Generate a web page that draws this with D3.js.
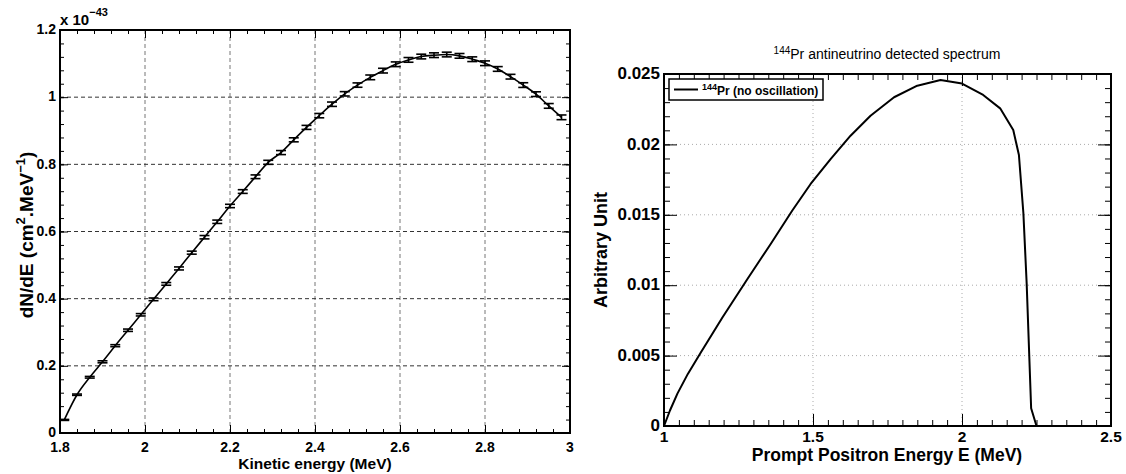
<!DOCTYPE html>
<html>
<head>
<meta charset="utf-8">
<script src="https://d3js.org/d3.v7.min.js"></script>
<style>
  body { margin: 0; background: #fff; }
  svg { display: block; font-family: "Liberation Sans", Arial, sans-serif; }
</style>
</head>
<body>
<div id="chart"></div>
<script>
// left panel: cross section points with error bars
var energyL = [1.81, 1.84, 1.87, 1.90, 1.93, 1.96, 1.99, 2.02, 2.05, 2.08,
               2.11, 2.14, 2.17, 2.20, 2.23, 2.26, 2.29, 2.32, 2.35, 2.38,
               2.41, 2.44, 2.47, 2.50, 2.53, 2.56, 2.59, 2.62, 2.65, 2.68,
               2.71, 2.74, 2.77, 2.80, 2.83, 2.86, 2.89, 2.92, 2.95, 2.98];
var dNdE = [0.039, 0.114, 0.166, 0.212, 0.260, 0.306, 0.352, 0.398, 0.444, 0.490,
            0.537, 0.583, 0.629, 0.676, 0.719, 0.763, 0.806, 0.835, 0.873, 0.910,
            0.945, 0.979, 1.010, 1.036, 1.059, 1.079, 1.098, 1.111, 1.121, 1.125,
            1.127, 1.123, 1.113, 1.101, 1.084, 1.061, 1.036, 1.009, 0.974, 0.940];
var dNdEerr = [0.0015, 0.002, 0.0025, 0.003, 0.003, 0.0035, 0.0035, 0.004, 0.004, 0.0045,
               0.0045, 0.005, 0.005, 0.005, 0.0055, 0.0055, 0.006, 0.006, 0.006, 0.006,
               0.0065, 0.0065, 0.0065, 0.0065, 0.007, 0.007, 0.007, 0.007, 0.007, 0.007,
               0.007, 0.007, 0.007, 0.007, 0.007, 0.007, 0.007, 0.007, 0.007, 0.007];
var xTicksL = [1.8, 2, 2.2, 2.4, 2.6, 2.8, 3];
var yTicksL = [0, 0.2, 0.4, 0.6, 0.8, 1, 1.2];

// right panel: detected spectrum
var energyR = [1.0, 1.02, 1.045, 1.08, 1.123, 1.196, 1.28, 1.358, 1.43, 1.492,
               1.559, 1.626, 1.693, 1.772, 1.85, 1.928, 2.0, 2.071, 2.128, 2.172,
               2.191, 2.206, 2.217, 2.232, 2.25, 2.49];
var spectrum = [0, 0.0011, 0.0023, 0.0037, 0.0052, 0.0077, 0.01044, 0.01293, 0.01529, 0.01719,
                0.01896, 0.02062, 0.02204, 0.02335, 0.02417, 0.02457, 0.02432, 0.02351, 0.02256, 0.02102,
                0.01925, 0.01511, 0.01013, 0.00126, 0, 0];
var xTicksR = [1, 1.5, 2, 2.5];
var yTicksR = [0, 0.005, 0.01, 0.015, 0.02, 0.025];

var svg = d3.select("#chart")
    .append("svg")
    .attr("width", 1126)
    .attr("height", 474);

function minorTicks(lo, hi, step) {
    return d3.range(0, Math.round((hi - lo) / step) + 1).map(function (i) {
        return +(lo + i * step).toFixed(5);
    });
}

// ticks on all four sides, pointing inwards like ROOT
function frameAxes(g, x, y, o) {
    var x0 = x.range()[0], x1 = x.range()[1], y0 = y.range()[0], y1 = y.range()[1];
    var sets = [
        [d3.axisBottom(x), "translate(0," + y0 + ")", o.xMajor, o.xMinor, o.majLen, o.minLen],
        [d3.axisTop(x), "translate(0," + y1 + ")", o.xMajor, o.xMinor, o.majLen, o.minLen],
        [d3.axisLeft(y), "translate(" + x0 + ",0)", o.yMajor, o.yMinor, o.majLenY, o.minLenY],
        [d3.axisRight(y), "translate(" + x1 + ",0)", o.yMajor, o.yMinor, o.majLenY, o.minLenY]
    ];
    sets.forEach(function (s) {
        var minor = g.append("g").attr("transform", s[1])
            .call(s[0].tickValues(s[3]).tickSize(-s[5]).tickSizeOuter(0).tickFormat(""));
        minor.select(".domain").remove();
        var major = g.append("g").attr("transform", s[1])
            .call(s[0].tickValues(s[2]).tickSize(-s[4]).tickSizeOuter(0).tickFormat(""));
        major.select(".domain").remove();
    });
    g.selectAll(".tick line").attr("stroke", "#000").attr("stroke-width", 1);

    g.append("rect")
        .attr("x", x0).attr("y", y1)
        .attr("width", x1 - x0).attr("height", y0 - y1)
        .attr("fill", "none")
        .attr("stroke", "#000")
        .attr("stroke-width", 2);

    g.selectAll(".xlab")
        .data(o.xMajor)
        .enter().append("text")
        .attr("x", function (d) { return x(d); })
        .attr("y", o.xLabY)
        .attr("text-anchor", "middle")
        .attr("font-weight", "bold")
        .attr("font-size", o.xFont)
        .text(function (d) { return d3.format("~g")(d); });

    g.selectAll(".ylab")
        .data(o.yMajor)
        .enter().append("text")
        .attr("x", x0 - 4)
        .attr("y", function (d) { return y(d); })
        .attr("dy", "0.3em")
        .attr("text-anchor", "end")
        .attr("font-weight", "bold")
        .attr("font-size", o.yFont)
        .text(function (d) { return d3.format("~g")(d); });
}

// ---------- left panel ----------
var xL = d3.scaleLinear().domain([1.8, 3]).range([60, 570]);
var yL = d3.scaleLinear().domain([0, 1.2]).range([433, 30]);
var gL = svg.append("g");

gL.selectAll(".vgrid")
    .data(xTicksL.slice(1, -1))
    .enter().append("line")
    .attr("x1", function (d) { return xL(d); })
    .attr("x2", function (d) { return xL(d); })
    .attr("y1", yL(0)).attr("y2", yL(1.2))
    .attr("stroke", "#777")
    .attr("stroke-dasharray", "4,3");

gL.selectAll(".hgrid")
    .data(yTicksL.slice(1, -1))
    .enter().append("line")
    .attr("x1", xL(1.8)).attr("x2", xL(3))
    .attr("y1", function (d) { return yL(d); })
    .attr("y2", function (d) { return yL(d); })
    .attr("stroke", "#333")
    .attr("stroke-dasharray", "4,3");

frameAxes(gL, xL, yL, {
    xMajor: xTicksL, xMinor: minorTicks(1.8, 3, 0.04),
    yMajor: yTicksL, yMinor: minorTicks(0, 1.2, 0.04),
    majLen: 8, minLen: 4, majLenY: 8, minLenY: 4,
    xLabY: 451.5, xFont: "14px", yFont: "14px"
});

var ptsL = energyL.map(function (e, i) { return { x: e, y: dNdE[i], err: dNdEerr[i] }; });

gL.append("path")
    .datum(ptsL)
    .attr("fill", "none")
    .attr("stroke", "#000")
    .attr("stroke-width", 1.6)
    .attr("d", d3.line()
        .x(function (d) { return xL(d.x); })
        .y(function (d) { return yL(d.y); })
        .curve(d3.curveMonotoneX));

var bars = gL.selectAll(".err")
    .data(ptsL)
    .enter().append("g")
    .attr("stroke", "#000")
    .attr("stroke-width", 1.6);
bars.append("line")
    .attr("x1", function (d) { return xL(d.x); })
    .attr("x2", function (d) { return xL(d.x); })
    .attr("y1", function (d) { return yL(d.y - d.err); })
    .attr("y2", function (d) { return yL(d.y + d.err); });
[-1, 1].forEach(function (s) {
    bars.append("line")
        .attr("x1", function (d) { return xL(d.x) - 5; })
        .attr("x2", function (d) { return xL(d.x) + 5; })
        .attr("y1", function (d) { return yL(d.y + s * d.err); })
        .attr("y2", function (d) { return yL(d.y + s * d.err); });
});

var expo = svg.append("text")
    .attr("x", 60).attr("y", 25)
    .attr("font-weight", "bold")
    .attr("font-size", "15px");
expo.append("tspan").text("x 10");
expo.append("tspan").attr("font-size", "11px").attr("dy", -9).text("\u221243");

svg.append("text")
    .attr("x", 315).attr("y", 469)
    .attr("text-anchor", "middle")
    .attr("font-weight", "bold")
    .attr("font-size", "15.5px")
    .text("Kinetic energy (MeV)");

var ytL = svg.append("text")
    .attr("transform", "translate(33,235) rotate(-90)")
    .attr("text-anchor", "middle")
    .attr("font-weight", "bold")
    .attr("font-size", "19px");
ytL.append("tspan").text("dN/dE (cm");
ytL.append("tspan").attr("font-size", "13px").attr("dy", -8).text("2");
ytL.append("tspan").attr("dy", 8).text(".MeV");
ytL.append("tspan").attr("font-size", "13px").attr("dy", -8).text("\u22121");
ytL.append("tspan").attr("dy", 8).text(")");

// ---------- right panel ----------
var xR = d3.scaleLinear().domain([1, 2.5]).range([664, 1111]);
var yR = d3.scaleLinear().domain([0, 0.025]).range([426, 74]);
var gR = svg.append("g");

gR.selectAll(".vgrid")
    .data(xTicksR.slice(1, -1))
    .enter().append("line")
    .attr("x1", function (d) { return xR(d); })
    .attr("x2", function (d) { return xR(d); })
    .attr("y1", yR(0)).attr("y2", yR(0.025))
    .attr("stroke", "#aaa")
    .attr("stroke-dasharray", "1,3");

gR.selectAll(".hgrid")
    .data(yTicksR.slice(1, -1))
    .enter().append("line")
    .attr("x1", xR(1)).attr("x2", xR(2.5))
    .attr("y1", function (d) { return yR(d); })
    .attr("y2", function (d) { return yR(d); })
    .attr("stroke", "#aaa")
    .attr("stroke-dasharray", "1,3");

frameAxes(gR, xR, yR, {
    xMajor: xTicksR, xMinor: minorTicks(1, 2.5, 0.05),
    yMajor: yTicksR, yMinor: minorTicks(0, 0.025, 0.001),
    majLen: 12, minLen: 6, majLenY: 13, minLenY: 6,
    xLabY: 441.5, xFont: "15.5px", yFont: "17px"
});

gR.append("path")
    .datum(energyR.map(function (e, i) { return [e, spectrum[i]]; }))
    .attr("fill", "none")
    .attr("stroke", "#000")
    .attr("stroke-width", 2)
    .attr("stroke-linejoin", "round")
    .attr("d", d3.line()
        .x(function (d) { return xR(d[0]); })
        .y(function (d) { return yR(d[1]); }));

var title = svg.append("text")
    .attr("x", 887).attr("y", 59)
    .attr("text-anchor", "middle")
    .attr("font-size", "14px");
title.append("tspan").attr("font-size", "10px").attr("dy", -5).text("144");
title.append("tspan").attr("dy", 5).text("Pr antineutrino detected spectrum");

svg.append("text")
    .attr("x", 887).attr("y", 461)
    .attr("text-anchor", "middle")
    .attr("font-weight", "bold")
    .attr("font-size", "17.5px")
    .text("Prompt Positron Energy E (MeV)");

svg.append("text")
    .attr("transform", "translate(607,250) rotate(-90)")
    .attr("text-anchor", "middle")
    .attr("font-weight", "bold")
    .attr("font-size", "18px")
    .text("Arbitrary Unit");

// legend
var leg = svg.append("g");
leg.append("rect")
    .attr("x", 669).attr("y", 79)
    .attr("width", 154).attr("height", 21)
    .attr("fill", "#fff")
    .attr("stroke", "#000")
    .attr("stroke-width", 1.5);
leg.append("line")
    .attr("x1", 674).attr("x2", 698)
    .attr("y1", 89.5).attr("y2", 89.5)
    .attr("stroke", "#000")
    .attr("stroke-width", 2);
var legText = leg.append("text")
    .attr("x", 702).attr("y", 95)
    .attr("font-weight", "bold")
    .attr("font-size", "12px");
legText.append("tspan").attr("font-size", "9px").attr("dy", -5).text("144");
legText.append("tspan").attr("dy", 5).text("Pr (no oscillation)");
</script>
</body>
</html>
